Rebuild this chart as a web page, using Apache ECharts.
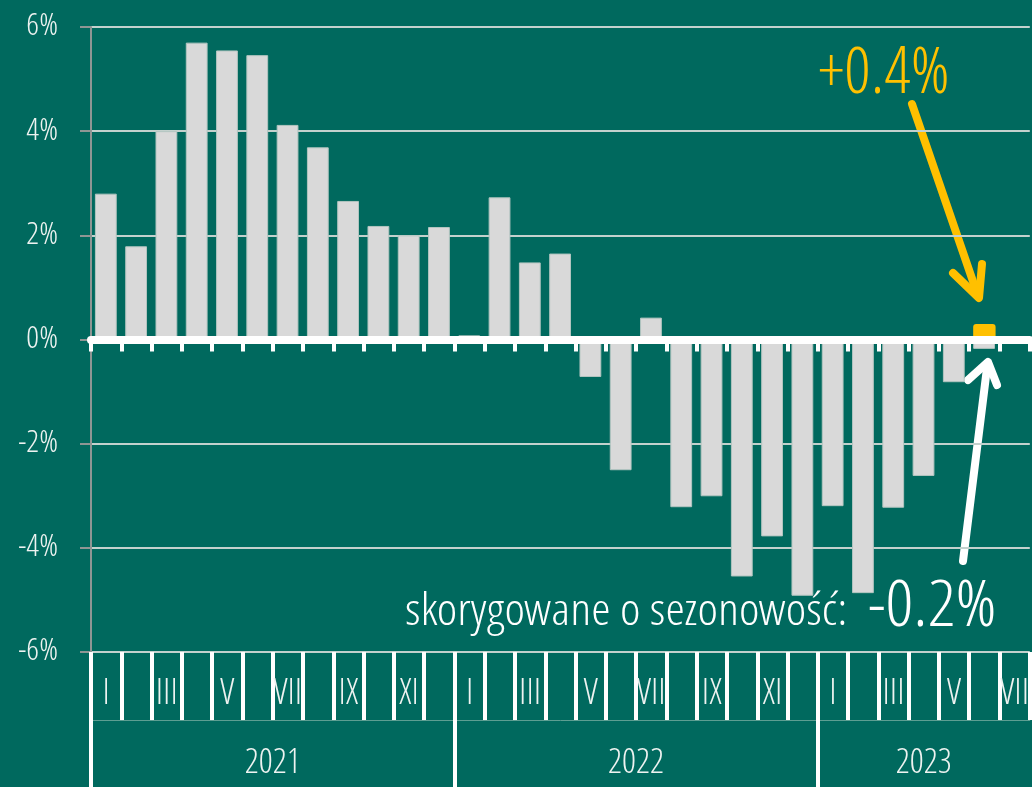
<!DOCTYPE html>
<html><head><meta charset="utf-8">
<script src="https://cdn.jsdelivr.net/npm/echarts@6/dist/echarts.min.js"></script>
<style>html,body{margin:0;padding:0;background:#00695e;}#chart{width:1032px;height:787px;}</style></head>
<body>
<div id="chart"></div>
<script>
// ---- data ----
const years = ['2021', '2022', '2023'];
const monthsPerYear = [12, 12, 7];
const romanMonths = ['I','II','III','IV','V','VI','VII','VIII','IX','X','XI','XII'];
const yTicks = [-6, -4, -2, 0, 2, 4, 6];
// y/y change, % (Jan 2021 .. Jul 2023)
const values2021 = [2.80, 1.79, 4.00, 5.70, 5.55, 5.46, 4.12, 3.69, 2.66, 2.18, 2.00, 2.16];
const values2022 = [0.08, 2.73, 1.48, 1.65, -0.72, -2.51, 0.42, -3.22, -3.01, -4.55, -3.78, -4.92];
const values2023 = [-3.20, -4.87, -3.23, -2.62, -0.82, -0.18, null];
// highlighted (non-adjusted) value for the latest month
const markerIndex = 29;
const markerValue = 0.3;
const labelUnadjusted = '+0.4%';
const labelAdjustedPrefix = 'skorygowane o sezonowość:';
const labelAdjusted = '-0.2%';

// ---- derived ----
const categories = [];
years.forEach((y, yi) => { for (let m = 0; m < monthsPerYear[yi]; m++) categories.push(romanMonths[m] + ' ' + y); });
const values = values2021.concat(values2022, values2023);
const markerData = categories.map((c, i) => i === markerIndex ? markerValue : null);
const yearStarts = [];
const yearCenters = [];
let acc = 0;
monthsPerYear.forEach(n => { yearStarts.push(acc); yearCenters.push(acc + n / 2); acc += n; });

const FONT = 'Open Sans Condensed Light';
const TXT = '#eef3f1';
const chart = echarts.init(document.getElementById('chart'));
chart.setOption({
  backgroundColor: '#00695e',
  animation: false,
  grid: { left: 91, right: 0, top: 27, bottom: 135 },
  yAxis: {
    type: 'value', min: yTicks[0], max: yTicks[yTicks.length - 1], interval: 2,
    axisLine: { show: true, lineStyle: { color: '#8e9694', width: 2 } },
    axisTick: { show: true, length: 11, lineStyle: { color: '#8e9694', width: 2 } },
    axisLabel: { formatter: '{value}%', color: TXT, fontSize: 32, fontFamily: FONT, margin: 33 },
    splitLine: { show: true, lineStyle: { color: '#c3d1cd', width: 2 } }
  },
  xAxis: [
    { // zero line with boundary ticks
      type: 'category', data: categories, position: 'bottom', z: 5,
      axisLine: { onZero: true, lineStyle: { color: '#ffffff', width: 8 } },
      axisTick: { show: true, interval: 0, alignWithLabel: false, length: 12, lineStyle: { color: '#ffffff', width: 4 } },
      axisLabel: { show: false }
    },
    { // month row
      type: 'category', data: categories, position: 'bottom', offset: 0,
      axisLine: { show: false, onZero: false },
      axisTick: { show: true, interval: 0, alignWithLabel: false, length: 68, lineStyle: { color: '#ffffff', width: 4 } },
      axisLabel: { interval: (i) => i % 2 === 0, formatter: (v) => v.split(' ')[0], color: TXT, fontSize: 36, fontFamily: FONT, margin: 25 }
    },
    { // year row
      type: 'value', min: 0, max: categories.length, position: 'bottom', offset: 68,
      axisLine: { show: true, onZero: false, lineStyle: { color: '#5d9e92', width: 1 } },
      axisTick: { show: true, customValues: yearStarts, length: 67, lineStyle: { color: '#ffffff', width: 4 } },
      axisLabel: { customValues: yearCenters, formatter: (v) => years[yearCenters.indexOf(v)] || '', color: TXT, fontSize: 35, fontFamily: FONT, margin: 26 },
      splitLine: { show: false }
    }
  ],
  series: [
    { name: 'r/r', type: 'bar', data: values, xAxisIndex: 0, yAxisIndex: 0, barWidth: '72%',
      itemStyle: { color: '#d9d9d9', borderColor: '#b2c5c0', borderWidth: 1 } },
    { name: 'marker', type: 'bar', data: markerData, xAxisIndex: 0, yAxisIndex: 0, barWidth: '74%', barGap: '-100%', z: 3,
      itemStyle: { color: '#ffc000', borderRadius: 3 } }
  ],
  graphic: [
    { type: 'text', x: 818, y: 76, scaleX: 1.03, style: { text: labelUnadjusted, fill: '#ffc000', fontSize: 64, fontFamily: FONT, verticalAlign: 'middle' } },
    { type: 'polyline', shape: { points: [[912, 104], [978, 296]] }, style: { stroke: '#ffc000', lineWidth: 8, lineCap: 'round' } },
    { type: 'polyline', shape: { points: [[953, 273], [979, 298], [982, 264]] }, style: { stroke: '#ffc000', lineWidth: 8, lineCap: 'round', lineJoin: 'round', fill: null } },
    { type: 'text', x: 405, y: 613, scaleX: 1.1, style: { text: labelAdjustedPrefix, fill: '#ffffff', fontSize: 45, fontFamily: FONT, verticalAlign: 'middle' } },
    { type: 'text', x: 868, y: 609, scaleX: 1.07, style: { text: labelAdjusted, fill: '#ffffff', fontSize: 65, fontFamily: FONT, verticalAlign: 'middle' } },
    { type: 'polyline', shape: { points: [[963, 561], [987, 368]] }, style: { stroke: '#ffffff', lineWidth: 8, lineCap: 'round' } },
    { type: 'polyline', shape: { points: [[968, 380], [988, 362], [997, 385]] }, style: { stroke: '#ffffff', lineWidth: 8, lineCap: 'round', lineJoin: 'round', fill: null } }
  ]
});
</script>
</body></html>
